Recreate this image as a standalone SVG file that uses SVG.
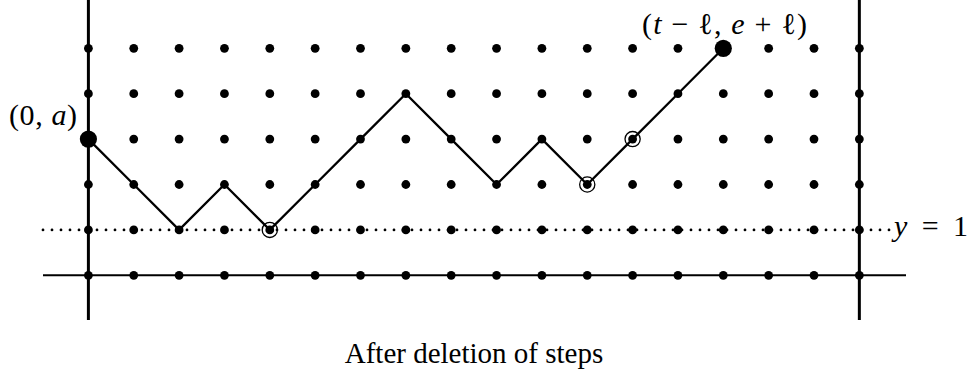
<svg xmlns="http://www.w3.org/2000/svg" xmlns:xlink="http://www.w3.org/1999/xlink" width="971" height="375" viewBox="0 0 971 375">
<style>
  .lbl { font-family: "Liberation Serif", "DejaVu Serif", serif; font-size: 30px; fill: #000; }
  .cap { font-family: "Liberation Serif", "DejaVu Serif", serif; font-size: 29px; fill: #000; }
  .it { font-style: italic; }
  .dot { fill: #000; }
  .big { fill: #000; }
  .ring { fill: none; stroke: #000; stroke-width: 1.3; }
  .axis { stroke: #000; stroke-width: 3; fill: none; }
  .base { stroke: #000; stroke-width: 2; fill: none; }
  .dotted { stroke: #000; stroke-width: 2.8; stroke-linecap: round; stroke-dasharray: 0 9; fill: none; }
  .walk { stroke: #000; stroke-width: 2.3; fill: none; stroke-linejoin: round; }
</style>
<defs>
  <g id="row">
    <circle class="dot" cx="88.4" cy="0" r="4.4"/>
    <circle class="dot" cx="133.75" cy="0" r="4.4"/>
    <circle class="dot" cx="179.1" cy="0" r="4.4"/>
    <circle class="dot" cx="224.45" cy="0" r="4.4"/>
    <circle class="dot" cx="269.8" cy="0" r="4.4"/>
    <circle class="dot" cx="315.15" cy="0" r="4.4"/>
    <circle class="dot" cx="360.5" cy="0" r="4.4"/>
    <circle class="dot" cx="405.85" cy="0" r="4.4"/>
    <circle class="dot" cx="451.2" cy="0" r="4.4"/>
    <circle class="dot" cx="496.55" cy="0" r="4.4"/>
    <circle class="dot" cx="541.9" cy="0" r="4.4"/>
    <circle class="dot" cx="587.25" cy="0" r="4.4"/>
    <circle class="dot" cx="632.6" cy="0" r="4.4"/>
    <circle class="dot" cx="677.95" cy="0" r="4.4"/>
    <circle class="dot" cx="723.3" cy="0" r="4.4"/>
    <circle class="dot" cx="768.65" cy="0" r="4.4"/>
    <circle class="dot" cx="814" cy="0" r="4.4"/>
    <circle class="dot" cx="859.35" cy="0" r="4.4"/>
  </g>
</defs>
<rect width="971" height="375" fill="#fff"/>

<g id="axes">
  <line class="axis" x1="88.4" y1="0" x2="88.4" y2="320"/>
  <line class="axis" x1="859.35" y1="0" x2="859.35" y2="320"/>
  <line class="base" x1="43" y1="275.3" x2="906" y2="275.3"/>
  <line class="dotted" x1="43" y1="229.9" x2="893" y2="229.9"/>
</g>

<g id="grid">
  <use xlink:href="#row" y="275.3"/>
  <use xlink:href="#row" y="229.9"/>
  <use xlink:href="#row" y="184.5"/>
  <use xlink:href="#row" y="139.1"/>
  <use xlink:href="#row" y="93.7"/>
  <use xlink:href="#row" y="48.3"/>
</g>

<g id="connectors">
  <polyline class="walk" points="88.4,139.1 133.75,184.5 179.1,229.9 224.45,184.5 269.8,229.9 315.15,184.5 360.5,139.1 405.85,93.7 451.2,139.1 496.55,184.5 541.9,139.1 587.25,184.5 632.6,139.1 677.95,93.7 723.3,48.3"/>
</g>

<g id="start">
  <circle class="big" cx="88.4" cy="139.1" r="8.6"/>
  <text class="lbl" x="9" y="125" textLength="68" lengthAdjust="spacing">(0, <tspan class="it">a</tspan>)</text>
</g>

<g id="end">
  <circle class="big" cx="723.3" cy="48.3" r="8.6"/>
  <text class="lbl" x="642" y="34" textLength="165" lengthAdjust="spacing">(<tspan class="it">t</tspan> − ℓ, <tspan class="it">e</tspan> + ℓ)</text>
</g>

<g id="mark1">
  <circle class="ring" cx="269.8" cy="229.9" r="7.6"/>
</g>
<g id="mark2">
  <circle class="ring" cx="587.25" cy="184.5" r="7.6"/>
</g>
<g id="mark3">
  <circle class="ring" cx="632.6" cy="139.1" r="7.6"/>
</g>

<g id="line-label">
  <text class="lbl" x="894" y="236" textLength="74" lengthAdjust="spacing"><tspan class="it">y</tspan> = 1</text>
</g>

<g id="caption">
  <text class="cap" x="474" y="363" text-anchor="middle">After deletion of steps</text>
</g>
</svg>
